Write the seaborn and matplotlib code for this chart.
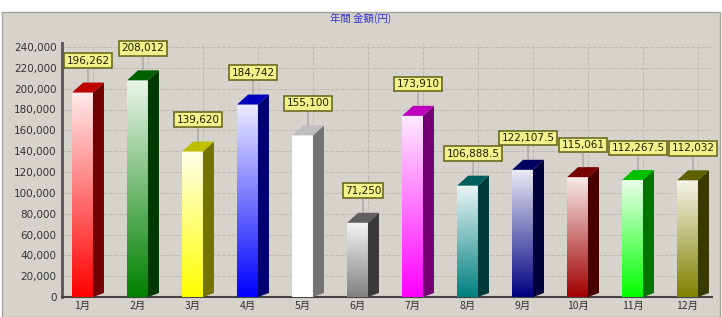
import numpy as np
import seaborn as sns
import matplotlib
matplotlib.use('Agg')
import matplotlib.pyplot as plt
from matplotlib.patches import Polygon, Rectangle
from matplotlib.ticker import FuncFormatter

# data
months = ['1月', '2月', '3月', '4月', '5月', '6月', '7月', '8月', '9月', '10月', '11月', '12月']
values = [196262, 208012, 139620, 184742, 155100, 71250, 173910, 106888.5, 122107.5, 115061, 112267.5, 112032]
bar_colors = ['#ff0000', '#008000', '#ffff00', '#0000ff', '#ffffff', '#808080',
              '#ff00ff', '#008080', '#000080', '#a00000', '#00ff00', '#808000']
yticks = list(range(0, 240001, 20000))
title = '年間 金額(円)'

sns.set_style('white')
plt.rcParams['font.family'] = ['Noto Sans CJK JP', 'DejaVu Sans']

bg = '#d6d3cc'
fig = plt.figure(figsize=(7.22, 3.17), dpi=100)
fig.patch.set_facecolor('white')
fig.add_artist(Rectangle((2 / 722, 0), 718 / 722, 1 - 12 / 317, transform=fig.transFigure,
                         facecolor=bg, edgecolor='#a8a49c', lw=1, zorder=0))

ax = fig.add_axes([62 / 722, 20 / 317, 650 / 722, 254 / 317])
ax.set_facecolor(bg)

sns.barplot(x=months, y=values, hue=months, palette=bar_colors, width=0.38,
            saturation=1, legend=False, ax=ax, zorder=3)

dx = 0.2      # 3d depth, x data units
dy = 9600     # 3d depth, y data units

patches = sorted(ax.patches, key=lambda p: p.get_x())
for i, p in enumerate(patches):
    x0 = p.get_x()
    w = p.get_width()
    h = p.get_height()
    x1 = x0 + w
    c = np.array(matplotlib.colors.to_rgb(bar_colors[i]))
    p.set_facecolor('none')
    p.set_edgecolor('none')
    # gradient front face: colour at bottom, near white at top
    t = np.linspace(0, 1, 100)[:, None, None]
    grad = c[None, None, :] * (1 - t * 0.92) + np.ones(3)[None, None, :] * t * 0.92
    ax.imshow(grad, extent=(x0, x1, 0, h), origin='lower', aspect='auto',
              interpolation='bilinear', zorder=4)
    side = Polygon([(x1, 0), (x1 + dx, dy * 0.4), (x1 + dx, h + dy), (x1, h)],
                   closed=True, facecolor=c * 0.45, edgecolor='none', zorder=4)
    top = Polygon([(x0, h), (x1, h), (x1 + dx, h + dy), (x0 + dx, h + dy)],
                  closed=True, facecolor=c * 0.75, edgecolor='none', zorder=4)
    ax.add_patch(side)
    ax.add_patch(top)
    if values[i] == int(values[i]):
        txt = f'{values[i]:,.0f}'
    else:
        txt = f'{values[i]:,.1f}'
    ax.annotate(txt, xy=(i + 0.1, h + dy), xytext=(0, 22), textcoords='offset pixels',
                ha='center', va='center', fontsize=7.5, family='DejaVu Sans',
                color='#202000', zorder=6,
                bbox=dict(boxstyle='square,pad=0.22', fc='#f2f28c', ec='#6b6b1e', lw=1.2),
                arrowprops=dict(arrowstyle='-', color='#8a8a8a', lw=0.6,
                                shrinkA=0, shrinkB=0))

# back-wall grid
for i in range(len(months)):
    ax.axvline(i + 0.19, color='#bdbab3', lw=0.7, ls='--', zorder=1)
ax.set_yticks(yticks)
ax.yaxis.grid(True, color='#bdbab3', lw=0.7, ls='--', zorder=1)
ax.set_axisbelow(True)

ax.set_xlim(-0.373, 11.445)
ax.set_ylim(0, 243840)
ax.yaxis.set_major_formatter(FuncFormatter(lambda v, pos: f'{int(v):,}'))
ax.tick_params(axis='y', labelsize=7.5, colors='#333333', direction='in', length=3, pad=4)
ax.tick_params(axis='x', labelsize=7.5, colors='#333333', length=0, pad=3)
for lab in ax.get_yticklabels():
    lab.set_family('DejaVu Sans')
ax.set_xlabel('')
ax.set_ylabel('')

for s in ['top', 'right']:
    ax.spines[s].set_visible(False)
ax.spines['left'].set_color('#555555')
ax.spines['left'].set_linewidth(2)
ax.spines['bottom'].set_color('#444444')
ax.spines['bottom'].set_linewidth(1.5)

fig.text(0.5, 1 - 18 / 317, title, ha='center', va='center', fontsize=7.5, color='#3333cc')

plt.savefig('out.png', dpi=100, facecolor=fig.get_facecolor())
